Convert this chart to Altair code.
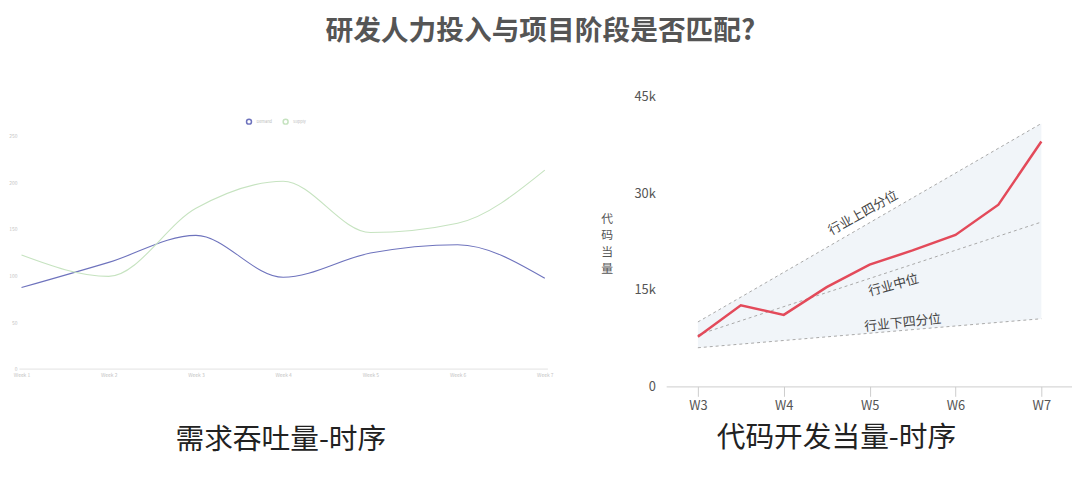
import altair as alt
import pandas as pd

# ---- left panel data (faded image: values estimated) ----
weeks = ["Week 1", "Week 2", "Week 3", "Week 4", "Week 5", "Week 6", "Week 7"]
demand = [87, 114, 143, 98, 124, 133, 97]
supply = [122, 99, 172, 201, 146, 156, 213]
series_names = ["Demand", "Supply"]
left_ticks = [0, 50, 100, 150, 200, 250]

# ---- right panel data ----
code_x = [3, 3.5, 4, 4.5, 5, 5.5, 6, 6.5, 7]
code_vals = [7700, 12600, 11100, 15400, 18900, 21100, 23500, 28200, 38000]
bench_x = [3, 7]
upper = [10000, 40800]
median = [8000, 25500]
lower = [6000, 10500]
week_ticks = [3, 4, 5, 6, 7]
code_ticks = [0, 15000, 30000, 45000]
label_text = ["行业上四分位", "行业中位", "行业下四分位"]
label_x = [4.925, 5.28, 5.386]
label_y = [26900, 15700, 9850]
label_angle = [331, 345, 354]

FONT = "Noto Sans CJK SC"

left_df = pd.DataFrame({
    "week": weeks * 2,
    "value": demand + supply,
    "series": [series_names[0]] * len(weeks) + [series_names[1]] * len(weeks),
})

left = alt.Chart(left_df).mark_line(interpolate="monotone", strokeWidth=1.1).encode(
    x=alt.X("week:N", sort=weeks, scale=alt.Scale(type="point", padding=0.03),
            axis=alt.Axis(title=None, labelAngle=0, labelFontSize=5, labelColor="#c4c4c4",
                          domainColor="#e2e2e2", ticks=False, offset=-18, labelPadding=4, grid=False)),
    y=alt.Y("value:Q", scale=alt.Scale(domain=[-19, 292], nice=False, zero=False),
            axis=alt.Axis(title=None, values=left_ticks, labelFontSize=5, labelColor="#c4c4c4",
                          domain=False, ticks=False, grid=False, labelPadding=2)),
    color=alt.Color("series:N", scale=alt.Scale(domain=series_names, range=["#6e73bd", "#c6e3c0"]),
                    legend=alt.Legend(orient="none", legendX=229, legendY=22, direction="horizontal",
                                      title=None, labelFontSize=4, labelColor="#bbbbbb", symbolSize=25,
                                      symbolType="circle", columnPadding=8)),
).properties(
    width=534, height=293,
    title=alt.TitleParams("需求吞吐量-时序", orient="bottom", anchor="middle", frame="bounds",
                          fontSize=29, font=FONT, fontWeight="normal", color="#222222", offset=40),
)

code_df = pd.DataFrame({"x": code_x, "v": code_vals})
bench_df = pd.DataFrame({"x": bench_x, "upper": upper, "median": median, "lower": lower})
lab_df = pd.DataFrame({"x": label_x, "y": label_y, "t": label_text, "a": label_angle})

xscale = alt.Scale(domain=[2.631, 7.357], nice=False, zero=False)
yscale = alt.Scale(domain=[0, 45000], nice=False)

xaxis = alt.Axis(title=None, values=week_ticks, labelExpr="'W' + datum.value", grid=False,
                 domainColor="#cccccc", tickColor="#cccccc", tickSize=10, labelFontSize=13,
                 labelColor="#555555", labelPadding=3, labelFont=FONT)
yaxis = alt.Axis(title=["代", "码", "当", "量"], values=code_ticks,
                 labelExpr="datum.value == 0 ? '0' : (datum.value / 1000) + 'k'",
                 domain=False, ticks=False, grid=False, labelFontSize=13, labelColor="#555555",
                 labelPadding=11, labelFont=FONT, titleAngle=0, titleFontSize=12, titleFont=FONT,
                 titleFontWeight="normal", titleColor="#555555", titleX=-60, titleY=118,
                 titleBaseline="top", titleAlign="center", titleLineHeight=17)

band = alt.Chart(bench_df).mark_area(color="#f1f5f9").encode(
    x=alt.X("x:Q", scale=xscale, axis=xaxis),
    y=alt.Y("upper:Q", scale=yscale, axis=yaxis),
    y2="lower:Q",
)

dashes = alt.Chart(bench_df).transform_fold(["upper", "median", "lower"], as_=["k", "val"]).mark_line(
    color="#a8a8a8", strokeDash=[3, 3], strokeWidth=1
).encode(
    x=alt.X("x:Q", scale=xscale),
    y=alt.Y("val:Q", scale=yscale),
    detail="k:N",
)

code_line = alt.Chart(code_df).mark_line(color="#e34a5a", strokeWidth=2.5).encode(
    x=alt.X("x:Q", scale=xscale),
    y=alt.Y("v:Q", scale=yscale),
)

labels = alt.Chart(lab_df).mark_text(fontSize=13, font=FONT, color="#444444").encode(
    x=alt.X("x:Q", scale=xscale),
    y=alt.Y("y:Q", scale=yscale),
    text="t:N",
    angle=alt.Angle("a:Q", scale=None),
)

right = alt.layer(band, dashes, code_line, labels).properties(
    width=410, height=293,
    title=alt.TitleParams("代码开发当量-时序", orient="bottom", anchor="middle", frame="bounds",
                          fontSize=29, font=FONT, fontWeight="normal", color="#222222", offset=12),
)

chart = alt.hconcat(left, right, spacing=47).properties(
    title=alt.TitleParams("研发人力投入与项目阶段是否匹配?", anchor="middle", fontSize=28, font=FONT,
                          fontWeight="bold", color="#555555", offset=45),
    padding={"left": 0, "top": 8, "right": 0, "bottom": 0},
).configure(font=FONT).configure_view(strokeWidth=0, stroke="transparent")

chart.save("out.html", embed_options={"renderer": "svg", "actions": False})
